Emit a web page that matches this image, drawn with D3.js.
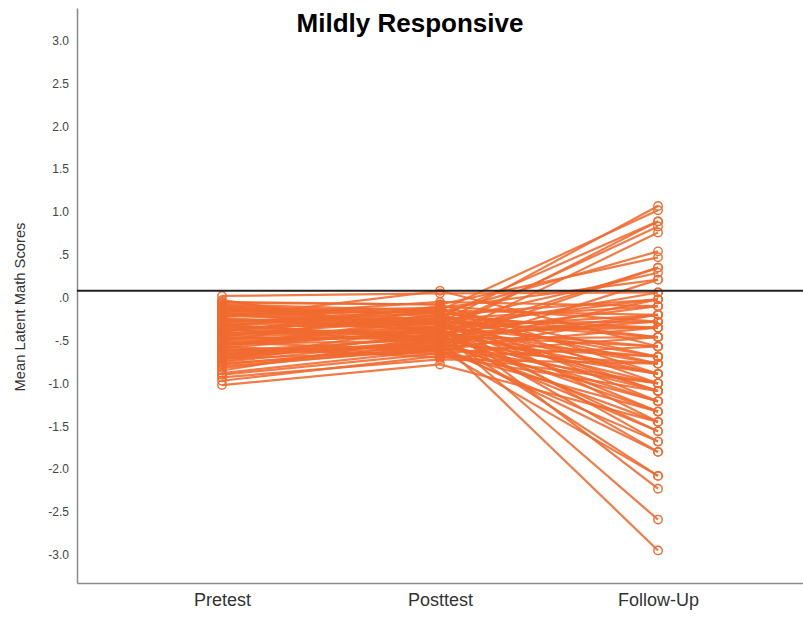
<!DOCTYPE html>
<html>
<head>
<meta charset="utf-8">
<script src="https://cdn.jsdelivr.net/npm/d3@7"></script>
<style>
  html, body { margin: 0; padding: 0; background: #fff; }
  svg { display: block; font-family: Arial, "Liberation Sans", sans-serif; }
</style>
</head>
<body>
<svg id="chart" width="803" height="617"></svg>
<script>
// Time points on the x axis
const timePoints = ["Pretest", "Posttest", "Follow-Up"];

// Mean latent math score per student at each time point (same order in each array)
const pretest = [
  -0.35, -0.20, -0.55, -0.10, -0.42, -0.62, -0.28, -0.05, -0.48, -0.70,
  -0.15, -0.33, -0.80, -0.25,  0.02, -0.45, -0.66, -0.12, -0.38, -0.58,
  -0.22, -0.75, -0.30, -0.08, -0.52, -0.18, -0.85, -0.40, -0.60, -0.27,
  -0.03, -0.72, -0.47, -0.14, -0.90, -0.36, -0.57, -0.23, -0.68, -0.44,
  -0.11, -0.78, -0.32, -0.50, -0.64, -0.19, -0.93, -0.39, -0.54, -0.06,
  -0.74, -0.29, -0.61, -0.16, -0.46, -0.82, -0.34, -0.56, -0.97, -0.21,
  -0.66, -0.41, -0.09, -0.71, -0.26, -0.51, -0.37, -1.02, -0.13, -0.59,
  -0.31, -0.77, -0.43, -0.63, -0.24, -0.53, -0.88, -0.17, -0.49, -0.69
];
const posttest = [
  -0.30, -0.15, -0.40, -0.22, -0.35, -0.48, -0.18, -0.08, -0.45, -0.52,
  -0.28, -0.12, -0.60, -0.38,  0.05, -0.20, -0.55, -0.32, -0.42, -0.25,
  -0.05, -0.50, -0.36, -0.15, -0.62, -0.30, -0.45, -0.10, -0.58, -0.24,
  -0.40, -0.33, -0.48, -0.18, -0.65, -0.27, -0.70,  0.08, -0.44, -0.36,
  -0.26, -0.55, -0.47, -0.14, -0.60, -0.34, -0.72, -0.21, -0.50, -0.08,
  -0.41, -0.30, -0.66, -0.12, -0.38, -0.57, -0.46, -0.23, -0.68, -0.31,
  -0.53, -0.40, -0.19, -0.63, -0.29, -0.44, -0.52, -0.78, -0.17, -0.37,
  -0.49, -0.59, -0.26, -0.56, -0.35, -0.43, -0.61, -0.28, -0.39, -0.50
];
const followUp = [
   1.07,  1.02,  0.89,  0.89,  0.83,  0.76,  0.54,  0.47,  0.35,  0.35,
   0.29,  0.21,  0.21,  0.06,  0.06, -0.02, -0.02, -0.02, -0.10, -0.10,
  -0.10, -0.20, -0.20, -0.20, -0.20, -0.28, -0.28, -0.28, -0.35, -0.35,
  -0.35, -0.35, -0.46, -0.46, -0.46, -0.46, -0.57, -0.57, -0.57, -0.57,
  -0.69, -0.69, -0.69, -0.69, -0.77, -0.77, -0.77, -0.77, -0.89, -0.89,
  -0.89, -0.89, -1.00, -1.00, -1.00, -1.00, -1.09, -1.09, -1.09, -1.09,
  -1.21, -1.21, -1.21, -1.33, -1.33, -1.33, -1.45, -1.45, -1.45, -1.56,
  -1.56, -1.68, -1.68, -1.80, -1.80, -2.08, -2.08, -2.23, -2.59, -2.95
];

// Horizontal reference line (overall mean)
const referenceValue = 0.08;

// Y tick values
const yTicks = [-3, -2.5, -2, -1.5, -1, -0.5, 0, 0.5, 1, 1.5, 2, 2.5, 3];

const titleText = "Mildly Responsive";
const yLabel = "Mean Latent Math Scores";

const orange = "#f06a2f";

const svg = d3.select("#chart");
const plotLeft = 77, plotRight = 803, plotTop = 8, plotBottom = 583;

const x = d3.scalePoint().domain(timePoints).range([plotLeft, plotRight]).padding(0.665);
const y = d3.scaleLinear().domain([-3.33, 3.38]).range([plotBottom, plotTop]);

// Axes: tick labels drop the leading zero and use a plain hyphen for negatives
const fmt = v => {
  const s = Math.abs(v).toFixed(1).replace(/^0\./, ".");
  return (v < 0 ? "-" : "") + s;
};
const yAxis = svg.append("g")
  .attr("transform", `translate(${plotLeft},0)`)
  .call(d3.axisLeft(y).tickValues(yTicks).tickSize(0).tickPadding(8).tickFormat(fmt));
yAxis.select(".domain").attr("stroke", "#8a8a8a").attr("stroke-width", 1.5);
yAxis.selectAll("text").attr("font-size", 12).attr("fill", "#444")
  .attr("font-family", "Arial, 'Liberation Sans', sans-serif");

const xAxis = svg.append("g")
  .attr("transform", `translate(0,${plotBottom})`)
  .call(d3.axisBottom(x).tickSize(0).tickPadding(10));
xAxis.select(".domain").attr("stroke", "#8a8a8a").attr("stroke-width", 1.5);
xAxis.selectAll("text").attr("font-size", 18).attr("fill", "#333")
  .attr("font-family", "Arial, 'Liberation Sans', sans-serif");

// Student trajectories
const students = pretest.map((p, i) => [p, posttest[i], followUp[i]]);
const line = d3.line().x((d, j) => x(timePoints[j])).y(d => y(d));

svg.append("g").selectAll("path").data(students).join("path")
  .attr("d", line)
  .attr("fill", "none")
  .attr("stroke", orange)
  .attr("stroke-width", 2.2)
  .attr("stroke-opacity", 0.88);

const pts = [];
students.forEach(s => s.forEach((v, j) => pts.push({ t: timePoints[j], v })));
svg.append("g").selectAll("circle").data(pts).join("circle")
  .attr("cx", d => x(d.t))
  .attr("cy", d => y(d.v))
  .attr("r", 4.2)
  .attr("fill", "none")
  .attr("stroke", orange)
  .attr("stroke-width", 1.4);

// Reference line
svg.append("line")
  .attr("x1", plotLeft).attr("x2", plotRight)
  .attr("y1", y(referenceValue)).attr("y2", y(referenceValue))
  .attr("stroke", "#222").attr("stroke-width", 2);

// Title
svg.append("text")
  .attr("x", 410).attr("y", 32)
  .attr("text-anchor", "middle")
  .attr("font-size", 26).attr("font-weight", "bold").attr("fill", "#000")
  .text(titleText);

// Y axis label
svg.append("text")
  .attr("transform", `translate(25,307) rotate(-90)`)
  .attr("text-anchor", "middle")
  .attr("font-size", 15).attr("fill", "#333")
  .attr("textLength", 169).attr("lengthAdjust", "spacingAndGlyphs")
  .text(yLabel);
</script>
</body>
</html>
